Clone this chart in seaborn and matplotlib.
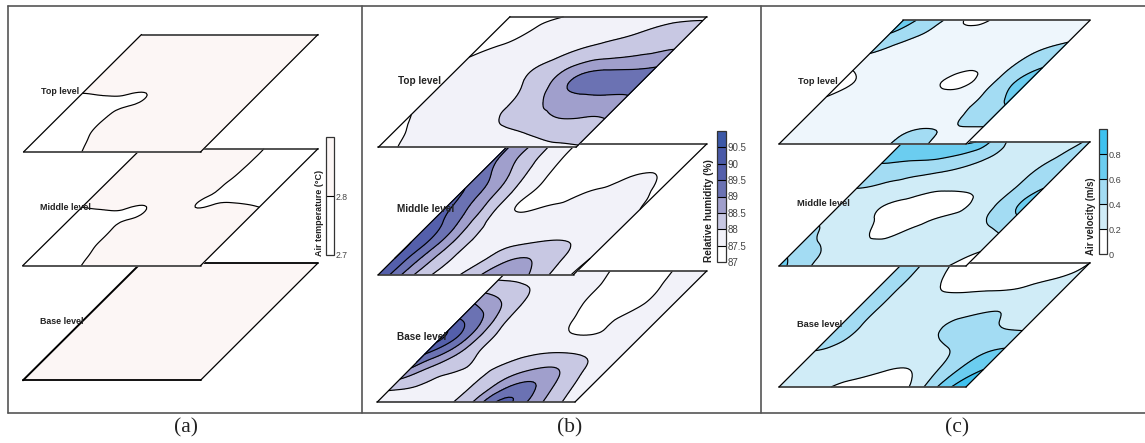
import warnings
import numpy as np
import matplotlib
matplotlib.use("Agg")
import matplotlib.pyplot as plt
import matplotlib.tri as mtri
from matplotlib.colors import ListedColormap, BoundaryNorm
from matplotlib.cm import ScalarMappable
import seaborn as sns

warnings.filterwarnings("ignore")

# ---------- data: values read on a 9 x 9 grid; rows run from the front edge to the back edge ----------
temp_top = [
    [2.72, 2.74, 2.77, 2.815, 2.83, 2.83, 2.83, 2.83, 2.83],
    [2.72, 2.75, 2.79, 2.82, 2.83, 2.83, 2.83, 2.83, 2.83],
    [2.72, 2.75, 2.795, 2.82, 2.83, 2.83, 2.83, 2.83, 2.83],
    [2.74, 2.77, 2.795, 2.807, 2.83, 2.83, 2.83, 2.83, 2.83],
    [2.80, 2.806, 2.803, 2.802, 2.83, 2.83, 2.83, 2.83, 2.83],
    [2.83, 2.83, 2.83, 2.83, 2.83, 2.83, 2.83, 2.83, 2.83],
    [2.83, 2.83, 2.83, 2.83, 2.83, 2.83, 2.83, 2.83, 2.83],
    [2.83, 2.83, 2.83, 2.83, 2.83, 2.83, 2.83, 2.83, 2.83],
    [2.83, 2.83, 2.83, 2.83, 2.83, 2.83, 2.83, 2.83, 2.83],
]
temp_mid = [
    [2.72, 2.74, 2.77, 2.815, 2.83, 2.83, 2.83, 2.83, 2.83],
    [2.73, 2.75, 2.785, 2.815, 2.83, 2.83, 2.83, 2.83, 2.83],
    [2.74, 2.76, 2.79, 2.815, 2.83, 2.83, 2.83, 2.83, 2.83],
    [2.76, 2.775, 2.795, 2.807, 2.83, 2.83, 2.83, 2.83, 2.82],
    [2.80, 2.806, 2.803, 2.802, 2.83, 2.802, 2.808, 2.81, 2.80],
    [2.83, 2.83, 2.83, 2.83, 2.83, 2.808, 2.785, 2.77, 2.77],
    [2.83, 2.83, 2.83, 2.83, 2.83, 2.815, 2.78, 2.75, 2.75],
    [2.83, 2.83, 2.83, 2.83, 2.83, 2.82, 2.78, 2.75, 2.75],
    [2.83, 2.83, 2.83, 2.83, 2.83, 2.82, 2.78, 2.75, 2.75],
]
temp_base = [
    [2.85, 2.85, 2.85, 2.85, 2.85, 2.85, 2.85, 2.85, 2.85],
    [2.85, 2.85, 2.85, 2.85, 2.85, 2.85, 2.85, 2.85, 2.85],
    [2.85, 2.85, 2.85, 2.85, 2.85, 2.85, 2.85, 2.85, 2.85],
    [2.85, 2.85, 2.85, 2.85, 2.85, 2.85, 2.85, 2.85, 2.85],
    [2.85, 2.85, 2.85, 2.85, 2.85, 2.85, 2.85, 2.85, 2.85],
    [2.85, 2.85, 2.85, 2.85, 2.85, 2.85, 2.85, 2.85, 2.85],
    [2.85, 2.85, 2.85, 2.85, 2.85, 2.85, 2.85, 2.85, 2.85],
    [2.85, 2.85, 2.85, 2.85, 2.85, 2.85, 2.85, 2.85, 2.85],
    [2.85, 2.85, 2.85, 2.85, 2.85, 2.85, 2.85, 2.85, 2.85],
]

rh_top = [
    [87.2, 87.55, 87.6, 87.7, 87.75, 87.8, 87.85, 87.9, 87.95],
    [87.4, 87.6, 87.7, 87.75, 87.9, 88.0, 88.15, 88.25, 88.3],
    [87.5, 87.65, 87.75, 87.85, 88.1, 88.35, 88.55, 88.55, 88.55],
    [87.6, 87.7, 87.8, 87.9, 88.15, 88.65, 88.85, 88.9, 88.9],
    [87.6, 87.7, 87.8, 87.95, 88.3, 88.95, 89.3, 89.25, 89.3],
    [87.55, 87.65, 87.75, 87.95, 88.25, 88.65, 88.8, 88.85, 88.95],
    [87.45, 87.55, 87.65, 87.75, 87.97, 88.15, 88.3, 88.42, 88.5],
    [87.35, 87.45, 87.6, 87.7, 87.8, 87.9, 88.02, 88.25, 88.35],
    [87.2, 87.4, 87.48, 87.6, 87.65, 87.7, 87.75, 87.8, 87.85],
]
rh_mid = [
    [90.0, 88.95, 88.1, 87.9, 88.35, 88.85, 88.6, 88.0, 87.45],
    [90.0, 89.05, 88.2, 87.85, 88.1, 88.5, 88.35, 87.95, 87.5],
    [90.0, 89.2, 88.25, 87.85, 87.9, 87.98, 88.05, 87.85, 87.52],
    [89.8, 89.15, 88.2, 87.8, 87.75, 87.7, 87.68, 87.6, 87.55],
    [89.65, 88.95, 88.1, 87.47, 87.55, 87.6, 87.65, 87.6, 87.5],
    [89.55, 88.85, 88.05, 87.45, 87.3, 87.49, 87.58, 87.6, 87.45],
    [89.3, 88.7, 87.95, 87.45, 87.25, 87.3, 87.45, 87.55, 87.3],
    [89.1, 88.45, 87.85, 87.4, 87.2, 87.2, 87.2, 87.3, 87.2],
    [89.05, 88.45, 87.8, 87.4, 87.2, 87.15, 87.15, 87.2, 87.15],
]
rh_base = [
    [87.6, 87.7, 87.85, 87.97, 88.65, 89.6, 89.05, 88.3, 87.7],
    [88.2, 88.0, 87.85, 87.95, 88.45, 89.1, 88.85, 88.15, 87.7],
    [88.95, 88.3, 88.02, 87.95, 88.2, 88.5, 88.5, 88.02, 87.7],
    [89.55, 88.8, 88.05, 87.85, 87.9, 88.0, 87.97, 87.85, 87.7],
    [90.1, 89.1, 88.05, 87.8, 87.7, 87.56, 87.52, 87.6, 87.7],
    [89.55, 88.95, 87.97, 87.75, 87.65, 87.42, 87.46, 87.6, 87.7],
    [89.0, 88.55, 87.95, 87.7, 87.6, 87.3, 87.3, 87.55, 87.7],
    [88.25, 88.1, 87.9, 87.7, 87.58, 87.3, 87.3, 87.55, 87.65],
    [87.75, 87.75, 87.7, 87.6, 87.52, 87.35, 87.4, 87.55, 87.6],
]

vel_top = [
    [0.30, 0.30, 0.30, 0.30, 0.34, 0.42, 0.45, 0.32, 0.35],
    [0.30, 0.30, 0.30, 0.30, 0.30, 0.38, 0.395, 0.39, 0.39],
    [0.30, 0.30, 0.30, 0.30, 0.30, 0.30, 0.33, 0.45, 0.52],
    [0.21, 0.30, 0.30, 0.30, 0.30, 0.28, 0.33, 0.47, 0.66],
    [0.10, 0.25, 0.30, 0.30, 0.24, 0.14, 0.28, 0.50, 0.72],
    [0.25, 0.30, 0.30, 0.30, 0.30, 0.24, 0.30, 0.46, 0.59],
    [0.42, 0.33, 0.28, 0.30, 0.30, 0.30, 0.30, 0.39, 0.47],
    [0.57, 0.44, 0.33, 0.28, 0.30, 0.30, 0.30, 0.32, 0.36],
    [0.75, 0.50, 0.35, 0.14, 0.25, 0.30, 0.30, 0.30, 0.32],
]
vel_mid = [
    [0.68, 0.46, 0.34, 0.30, 0.28, 0.28, 0.26, 0.22, 0.12],
    [0.54, 0.42, 0.30, 0.28, 0.26, 0.26, 0.26, 0.26, 0.21],
    [0.45, 0.32, 0.26, 0.17, 0.23, 0.26, 0.28, 0.30, 0.38],
    [0.36, 0.30, 0.21, 0.12, 0.14, 0.23, 0.28, 0.42, 0.55],
    [0.30, 0.30, 0.20, 0.15, 0.12, 0.14, 0.28, 0.47, 0.68],
    [0.40, 0.37, 0.33, 0.25, 0.22, 0.24, 0.30, 0.44, 0.60],
    [0.52, 0.47, 0.43, 0.39, 0.33, 0.30, 0.30, 0.42, 0.50],
    [0.65, 0.64, 0.63, 0.56, 0.44, 0.35, 0.32, 0.38, 0.45],
    [0.72, 0.72, 0.72, 0.82, 0.50, 0.35, 0.32, 0.35, 0.42],
]
vel_base = [
    [0.30, 0.28, 0.22, 0.14, 0.10, 0.10, 0.33, 0.68, 0.98],
    [0.32, 0.30, 0.27, 0.24, 0.19, 0.20, 0.38, 0.62, 0.82],
    [0.36, 0.33, 0.30, 0.28, 0.27, 0.30, 0.41, 0.57, 0.67],
    [0.47, 0.38, 0.30, 0.28, 0.30, 0.41, 0.47, 0.50, 0.52],
    [0.47, 0.39, 0.30, 0.27, 0.33, 0.47, 0.47, 0.38, 0.34],
    [0.47, 0.39, 0.30, 0.25, 0.28, 0.32, 0.385, 0.33, 0.30],
    [0.47, 0.39, 0.28, 0.21, 0.21, 0.22, 0.24, 0.27, 0.30],
    [0.50, 0.39, 0.26, 0.12, 0.10, 0.10, 0.14, 0.19, 0.24],
    [0.50, 0.38, 0.22, 0.05, 0.05, 0.05, 0.08, 0.12, 0.20],
]

grid_u = [0, 0.125, 0.25, 0.375, 0.5, 0.625, 0.75, 0.875, 1]
grid_v = [0, 0.125, 0.25, 0.375, 0.5, 0.625, 0.75, 0.875, 1]

temp_levels = [2.0, 2.8, 3.5]
temp_ticks = [2.7, 2.8]
rh_levels = [80, 87.5, 88, 88.5, 89, 89.5, 90, 90.5, 95]
rh_ticks = [87, 87.5, 88, 88.5, 89, 89.5, 90, 90.5]
vel_levels = [-1, 0.2, 0.4, 0.6, 0.8, 2]
vel_ticks = [0, 0.2, 0.4, 0.6, 0.8]
plane_names = ["Base level", "Middle level", "Top level"]
panel_tags = ["(a)", "(b)", "(c)"]

# ---------- colours ----------
sns.set_theme(style="white")
plt.rcParams["font.family"] = ["Liberation Sans", "DejaVu Sans"]
temp_colors = sns.blend_palette(["#ffffff", "#fcf6f5"], 2)
rh_colors = sns.color_palette(["#ffffff", "#f2f2f9", "#c8c8e3", "#a09fcc",
                               "#6b72b3", "#545fab", "#4a5aa8", "#3c58a7"])
vel_colors = sns.color_palette(["#ffffff", "#d0ecf7", "#a3dcf3", "#6bcdf0", "#3fc1ef"])
vel_colors_top = sns.color_palette(["#ffffff", "#eef6fc", "#a3dcf3", "#6bcdf0", "#3fc1ef"])

# ---------- layout in figure pixels ----------
W, H = 1145, 443
fig = plt.figure(figsize=(W / 100, H / 100), dpi=100)
ax = fig.add_axes([0, 0, 1, 1])
ax.set_xlim(0, W)
ax.set_ylim(H, 0)
ax.axis("off")

uu, vv = np.meshgrid(grid_u, grid_v)
base_tri = mtri.Triangulation(uu.ravel(), vv.ravel())
refiner = mtri.UniformTriRefiner(base_tri)


def draw_plane(field, levels, colors, x0, x1, skew_l, skew_r, y_front, y_back, z, heavy=False):
    """Draw one grid field on a sheared sheet (front edge x0..x1, shifted back by skew)."""
    fine, zf = refiner.refine_field(np.asarray(field, float).ravel(), subdiv=3)
    sx = x0 + (x1 - x0) * fine.x + skew_l * fine.y + (skew_r - skew_l) * fine.x * fine.y
    sy = y_front + (y_back - y_front) * fine.y
    tri = mtri.Triangulation(sx, sy, fine.triangles)
    corners_x = [x0, x1, x1 + skew_r, x0 + skew_l, x0]
    corners_y = [y_front, y_front, y_back, y_back, y_front]
    ax.fill(corners_x, corners_y, color="white", zorder=z)
    ax.tricontourf(tri, zf, levels=levels, colors=colors, zorder=z + 0.1)
    inner = levels[1:-1]
    if np.ptp(field) > 0:
        ax.tricontour(tri, zf, levels=inner, colors="black", linewidths=0.85, zorder=z + 0.2)
    edge = "black" if heavy else "#444444"
    ax.plot(corners_x[:2], corners_y[:2], color=edge, lw=1.3, zorder=z + 0.3)
    ax.plot(corners_x[2:4], corners_y[2:4], color=edge, lw=1.3, zorder=z + 0.3)
    ax.plot(corners_x[1:3], corners_y[1:3], color="black", lw=0.9, zorder=z + 0.3)
    ax.plot(corners_x[3:5], corners_y[3:5], color="black", lw=1.4 if heavy else 0.9, zorder=z + 0.3)


def colorbar(x0, x1, y0, y1, levels, colors, vmin, vmax, ticks, label, label_x, label_bottom, fs):
    cax = fig.add_axes([x0 / W, 1 - y1 / H, (x1 - x0) / W, (y1 - y0) / H])
    bounds = [vmin] + list(levels[1:-1]) + [vmax]
    norm = BoundaryNorm(bounds, len(colors))
    sm = ScalarMappable(norm=norm, cmap=ListedColormap(colors))
    cb = fig.colorbar(sm, cax=cax, ticks=ticks, spacing="proportional", drawedges=True)
    cb.outline.set_edgecolor("#333333")
    cb.outline.set_linewidth(0.9)
    cb.dividers.set_color("black")
    cb.dividers.set_linewidth(0.8)
    cax.minorticks_off()
    cax.tick_params(axis="y", length=0, pad=1.2, labelsize=fs, labelcolor="#444444",
                    right=True, left=False)
    cb.set_ticklabels([f"{t:g}" for t in ticks])
    ax.text(label_x, label_bottom, label, rotation=90, ha="center", va="bottom",
            fontsize=fs + 0.3, fontweight="bold", color="#222222", zorder=20)


panels = [
    dict(fields=[temp_base, temp_mid, temp_top], levels=temp_levels, colors=[temp_colors] * 3,
         planes=[(23, 200.5, 118, 117.5, 380.3, 263), (22.7, 200.5, 118.5, 117.5, 265.7, 148.7),
                 (23.5, 200.5, 118, 117.5, 152, 34.5)],
         labels=[(40.5, 321), (40, 207), (41, 91)], fs=6.4, tag_x=186, heavy_base=True),
    dict(fields=[rh_base, rh_mid, rh_top], levels=rh_levels, colors=[rh_colors] * 3,
         planes=[(377.3, 575, 130, 131.7, 402, 271), (378.3, 573.5, 131.5, 133.2, 274.7, 144),
                 (378.3, 576, 131.7, 130.7, 147.3, 16.7)],
         labels=[(397, 337), (396.7, 209), (398, 80.7)], fs=7.2, tag_x=570, heavy_base=False),
    dict(fields=[vel_base, vel_mid, vel_top], levels=vel_levels,
         colors=[vel_colors, vel_colors, vel_colors_top],
         planes=[(779, 966, 124.3, 124, 387, 262.7), (779, 966, 124.3, 124, 266, 141.7),
                 (779, 966, 124.3, 124, 144, 20.3)],
         labels=[(797.3, 324.7), (796.7, 203), (797.7, 81)], fs=6.7, tag_x=957, heavy_base=False),
]

for p, tag in zip(panels, panel_tags):
    for k, (field, cols, plane, name, lab) in enumerate(
            zip(p["fields"], p["colors"], p["planes"], plane_names, p["labels"])):
        x0, x1, sl, sr, yf, yb = plane
        draw_plane(field, p["levels"], cols, x0, x1, sl, sr, yf, yb, z=2 + 2 * k,
                   heavy=p["heavy_base"] and k == 0)
        ax.text(lab[0], lab[1], name, ha="left", va="center", fontsize=p["fs"],
                fontweight="bold", color="#222222", zorder=20)
    ax.text(p["tag_x"], 428, tag, ha="center", va="center", fontsize=15.5,
            family="Liberation Serif", color="#222222", zorder=20)

colorbar(326.3, 333.7, 137.3, 255, temp_levels, temp_colors, 2.7, 2.9, temp_ticks,
         "Air temperature (°C)", 319, 256, 6.2)
colorbar(717.3, 725.7, 130.7, 262.3, rh_levels, rh_colors, 87, 91, rh_ticks,
         "Relative humidity (%)", 709, 262.5, 7.0)
colorbar(1099.3, 1107.3, 129.3, 254.3, vel_levels, vel_colors, 0, 1, vel_ticks,
         "Air velocity (m/s)", 1090.5, 254.5, 6.6)

# panel frame
for xs, ys in [([7.5, 1146], [6, 6]), ([7.5, 1146], [412.5, 412.5]), ([7.5, 7.5], [6, 412.5]),
               ([362, 362], [6, 412.5]), ([760.5, 760.5], [6, 412.5])]:
    ax.plot(xs, ys, color="#555555", lw=1.2, zorder=1)

fig.savefig("out.png", dpi=100)
